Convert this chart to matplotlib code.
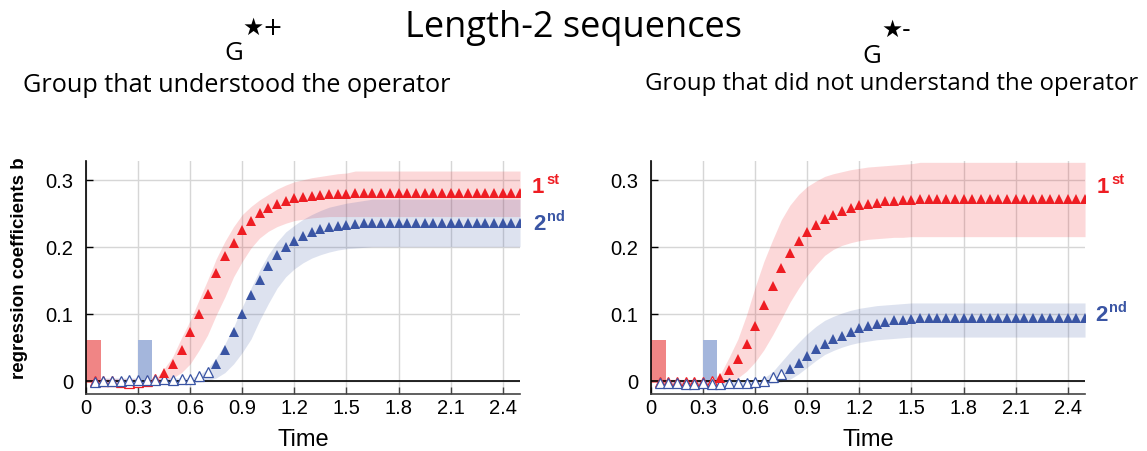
import numpy as np
import matplotlib.pyplot as plt

# time bins (s)
TIME = np.round(np.arange(1, 51) * 0.05, 2)

# left panel: group that understood the operator
L_RED = ([0.000, -0.001, -0.001, -0.002, -0.003, -0.002, 0.000, 0.003,
          0.012, 0.025, 0.046, 0.072, 0.100, 0.130, 0.161, 0.186, 0.206, 0.225,
          0.238, 0.250, 0.258, 0.264, 0.268, 0.272,
          0.274, 0.276, 0.277, 0.278, 0.279, 0.279] + [0.280] * 20)
L_RED_LO = ([-0.004] * 8 +
            [0.000, 0.004, 0.012, 0.025, 0.045, 0.068, 0.098, 0.125, 0.155, 0.178,
             0.198, 0.213, 0.223, 0.230, 0.235, 0.239,
             0.241, 0.243, 0.244, 0.245, 0.245, 0.245] + [0.245] * 20)
L_RED_HI = ([0.003] * 8 +
            [0.018, 0.036, 0.064, 0.090, 0.120, 0.150, 0.182, 0.208, 0.230, 0.248,
             0.260, 0.270, 0.278, 0.286, 0.292, 0.297,
             0.300, 0.303, 0.305, 0.307, 0.309, 0.310] + [0.313] * 20)

L_BLUE = ([-0.002, 0.000, 0.000, 0.000, 0.001, 0.001, 0.001, 0.001, 0.002, 0.001,
           0.002, 0.003, 0.007, 0.013,
           0.025, 0.046, 0.072, 0.100, 0.128, 0.151, 0.171, 0.188, 0.200, 0.209,
           0.216, 0.222, 0.226, 0.229, 0.231, 0.233, 0.234, 0.235] + [0.236] * 18)
L_BLUE_LO = ([-0.003] * 12 + [-0.002, 0.000] +
             [0.004, 0.012, 0.025, 0.042, 0.062, 0.090, 0.115, 0.138, 0.155, 0.167,
              0.176, 0.183, 0.188, 0.192, 0.195, 0.197, 0.198, 0.199] + [0.200] * 18)
L_BLUE_HI = ([0.004] * 12 + [0.008, 0.018] +
             [0.034, 0.055, 0.080, 0.110, 0.138, 0.165, 0.188, 0.207, 0.222, 0.232,
              0.241, 0.248, 0.254, 0.259, 0.262, 0.265, 0.267, 0.269] + [0.271] * 18)

# right panel: group that did not understand the operator
R_RED = ([-0.002] * 6 + [-0.001] +
         [0.004, 0.016, 0.032, 0.054, 0.082, 0.113, 0.141, 0.168, 0.191, 0.208,
          0.222, 0.233, 0.242, 0.248, 0.254, 0.258, 0.262, 0.264, 0.266, 0.268,
          0.269, 0.270, 0.270] + [0.271] * 20)
R_RED_LO = ([-0.006] * 7 +
            [-0.004, -0.002, 0.004, 0.014, 0.028, 0.046, 0.068, 0.092, 0.117, 0.138,
             0.157, 0.173, 0.187, 0.196, 0.202, 0.206, 0.209, 0.211, 0.212, 0.213,
             0.214, 0.214, 0.215] + [0.215] * 20)
R_RED_HI = ([0.002] * 7 +
            [0.010, 0.035, 0.062, 0.098, 0.140, 0.178, 0.210, 0.240, 0.262, 0.278,
             0.290, 0.298, 0.305, 0.309, 0.312, 0.315, 0.317, 0.319, 0.320, 0.321,
             0.322, 0.323, 0.324] + [0.326] * 20)

R_BLUE = ([-0.004, -0.004, -0.004, -0.005, -0.005, -0.004, -0.005, -0.005, -0.004,
           -0.004, -0.003, -0.002, 0.000, 0.005, 0.010,
           0.018, 0.027, 0.037, 0.047, 0.054, 0.062, 0.067, 0.073, 0.078, 0.082,
           0.085, 0.088, 0.090, 0.091, 0.092] + [0.093] * 20)
R_BLUE_LO = ([-0.008] * 12 + [-0.006, -0.004, -0.002] +
             [0.002, 0.010, 0.020, 0.030, 0.039, 0.045, 0.050, 0.054, 0.057, 0.059,
              0.061, 0.062, 0.063, 0.064, 0.065] + [0.065] * 20)
R_BLUE_HI = ([-0.001] * 12 + [0.004, 0.013, 0.028] +
             [0.043, 0.057, 0.070, 0.081, 0.090, 0.096, 0.101, 0.105, 0.108, 0.110,
              0.112, 0.113, 0.114, 0.115, 0.116] + [0.116] * 20)

# first significant bin (filled markers from here on)
ONSET_LEFT = [0.45, 0.75]
ONSET_RIGHT = [0.40, 0.80]

# stimulus bars (1st and 2nd item)
STIM_START = [0.0, 0.30]
STIM_WIDTH = [0.085, 0.08]
STIM_HEIGHT = [0.063, 0.063]

XTICKS = [0, 0.3, 0.6, 0.9, 1.2, 1.5, 1.8, 2.1, 2.4]
XTICK_LABELS = ['0', '0.3', '0.6', '0.9', '1.2', '1.5', '1.8', '2.1', '2.4']
YTICKS = [0, 0.1, 0.2, 0.3]
YTICK_LABELS = ['0', '0.1', '0.2', '0.3']

RED = '#ee1d23'
BLUE = '#3a55a4'
ARIAL = 'Liberation Sans'
SANS = ['Open Sans', 'DejaVu Sans']

fig = plt.figure(figsize=(11.47, 4.52), dpi=100)


def panel(ax, series, onsets, lab_offsets):
    ax.set_xlim(0, 2.5)
    ax.set_ylim(-0.02, 0.328)
    ax.grid(color='#d6d6d6', lw=1)
    ax.set_axisbelow(True)
    t = np.array(TIME)
    for (vals, lo, hi, col), onset in zip(series, onsets):
        ax.fill_between(t, lo, hi, color=col, alpha=0.17, lw=0, zorder=1)
    ax.bar(STIM_START, STIM_HEIGHT, width=STIM_WIDTH, bottom=-0.003,
           align='edge', color=['#f08585', '#a4b6dc'], zorder=2)
    ax.axhline(0, color='black', lw=1.2, zorder=2)
    for (vals, lo, hi, col), onset in zip(series, onsets):
        v = np.array(vals)
        sig = t >= onset - 1e-9
        ax.plot(t[~sig], v[~sig], '^', ms=6.5, mfc='white', mec=col, mew=0.9,
                zorder=3)
        ax.plot(t[sig], v[sig], '^', ms=6.5, color=col, mew=0, zorder=4)
    for (vals, lo, hi, col), (num, suf, dx, dy) in zip(series, lab_offsets):
        ax.annotate(num, xy=(t[-1], vals[-1]), xytext=(dx, dy),
                    textcoords='offset pixels', color=col, fontsize=16,
                    fontweight='bold', family=ARIAL, va='baseline',
                    annotation_clip=False)
        ax.annotate(suf, xy=(t[-1], vals[-1]), xytext=(dx + 14, dy + 9),
                    textcoords='offset pixels', color=col, fontsize=10.5,
                    fontweight='bold', family=ARIAL, va='baseline',
                    annotation_clip=False)

    ax.set_xticks(XTICKS)
    ax.set_xticklabels(XTICK_LABELS)
    ax.set_yticks(YTICKS)
    ax.set_yticklabels(YTICK_LABELS)
    for lbl in ax.get_xticklabels() + ax.get_yticklabels():
        lbl.set_family(ARIAL)
        lbl.set_fontsize(14.5)
    ax.tick_params(axis='x', direction='in', length=5, width=1,
                   color='#444444', pad=3)
    ax.tick_params(axis='y', direction='in', length=5, width=1,
                   color='black', pad=9)
    ax.spines['top'].set_visible(False)
    ax.spines['right'].set_visible(False)
    ax.spines['left'].set_linewidth(1.2)
    ax.spines['bottom'].set_linewidth(1.2)
    ax.spines['bottom'].set_color('#444444')
    ax.set_xlabel('Time', family=ARIAL, fontsize=17, labelpad=8)


ax1 = fig.add_axes([0.0750, 0.1261, 0.3784, 0.5155])
panel(ax1, [(L_RED, L_RED_LO, L_RED_HI, RED),
            (L_BLUE, L_BLUE_LO, L_BLUE_HI, BLUE)],
      ONSET_LEFT, [('1', 'st', 12, 1), ('2', 'nd', 13, -6)])

ax2 = fig.add_axes([0.5676, 0.1261, 0.3784, 0.5155])
panel(ax2, [(R_RED, R_RED_LO, R_RED_HI, RED),
            (R_BLUE, R_BLUE_LO, R_BLUE_HI, BLUE)],
      ONSET_RIGHT, [('1', 'st', 12, 7), ('2', 'nd', 10, -2)])

fig.text(20 / 1147, 1 - 268 / 452, 'regression coefficients b', rotation=90,
         ha='center', va='center', family=ARIAL, fontsize=13.5,
         fontweight='bold')

# headers
fig.text(0.5, 1 - 37 / 452, 'Length-2 sequences', ha='center', va='baseline',
         family=SANS, fontsize=26)
fig.text(224 / 1147, 1 - 60 / 452, 'G', ha='left', va='baseline',
         family=SANS, fontsize=18.5)
fig.text(242 / 1147, 1 - 35 / 452, '★+', ha='left', va='baseline',
         family=['DejaVu Sans'], fontsize=17)
fig.text(862 / 1147, 1 - 63 / 452, 'G', ha='left', va='baseline',
         family=SANS, fontsize=18.5)
fig.text(881 / 1147, 1 - 37 / 452, '★-', ha='left', va='baseline',
         family=['DejaVu Sans'], fontsize=17)
fig.text(23 / 1147, 1 - 92 / 452, 'Group that understood the operator',
         ha='left', va='baseline', family=SANS, fontsize=18.2)
fig.text(1138 / 1147, 1 - 90 / 452, 'Group that did not understand the operator',
         ha='right', va='baseline', family=SANS, fontsize=17.3)

fig.savefig('out.png', dpi=100)
